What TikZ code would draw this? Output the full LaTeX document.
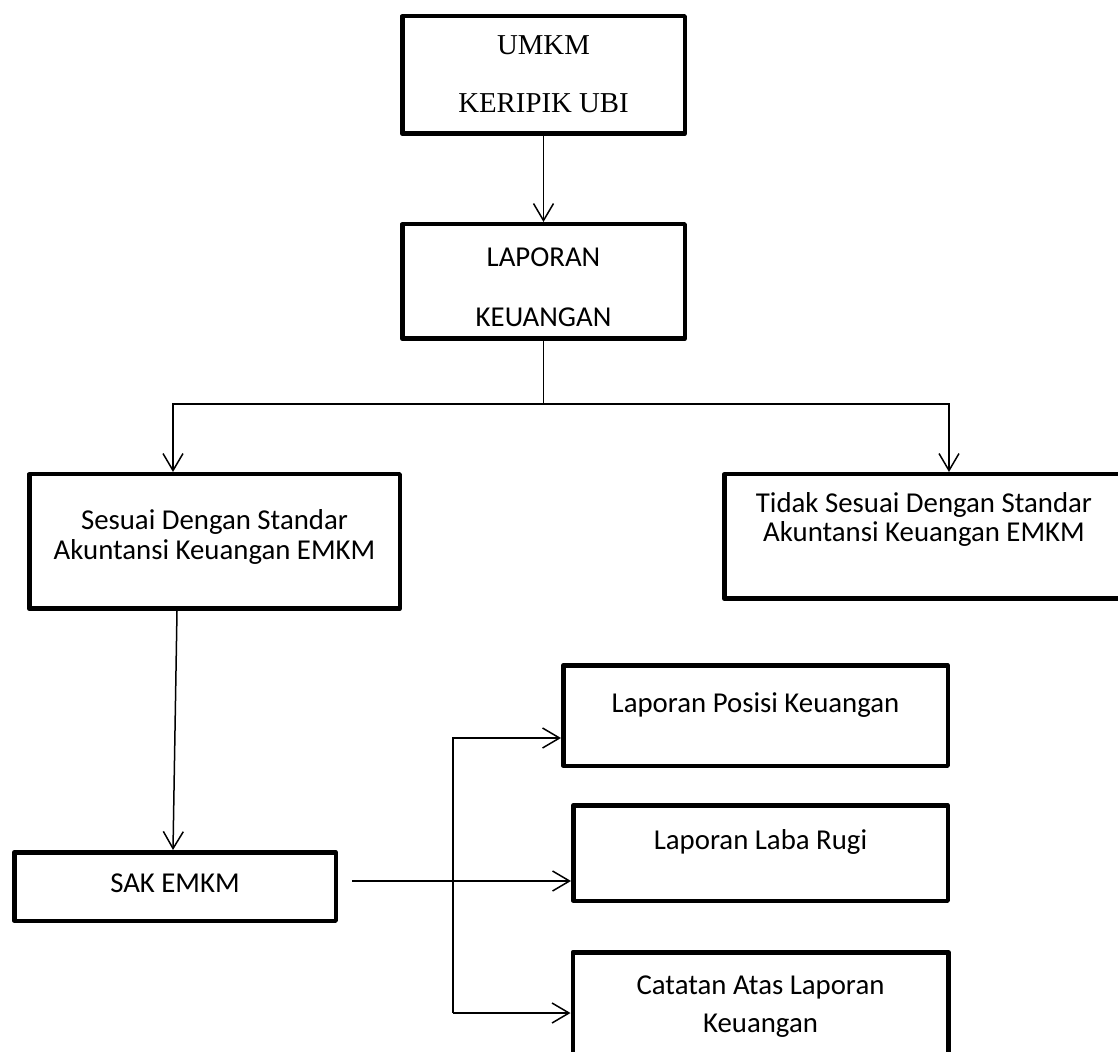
\documentclass[tikz,border=0pt]{standalone}
\usepackage{fontspec}
\setmainfont{Carlito}
\newfontfamily\timesfont{Liberation Serif}
\usetikzlibrary{positioning, arrows.meta}

\begin{document}
\begin{tikzpicture}[
    x=0.5pt, y=-0.5pt,
    box/.style={rectangle, draw, line width=2.25pt, line join=round, align=center, inner ysep=1pt, text height=10pt, font=\fontsize{14.4}{15}\selectfont},
    arrow/.style={-{Straight Barb[length=8.5pt, width=10pt]}, line width=0.75pt},
    line/.style={line width=0.75pt},
]
\path[use as bounding box, clip] (0,0) rectangle (1118,1052);

% ============ atas ============
\node[box, font=\timesfont\fontsize{14.4}{15}\selectfont, minimum width=141.25pt, minimum height=58.75pt, text height=42pt, text depth=4pt] (umkm) at (543.5,75)
      {UMKM\\[14pt]KERIPIK UBI};

\node[box, below=43pt of umkm, minimum width=141.25pt, minimum height=57.25pt, text height=48.7pt, text depth=4pt] (lapk)
      {LAPORAN\\[15pt]KEUANGAN};

% ============ cabang ============
\node[box, minimum width=185.25pt, minimum height=67.25pt, text height=21.7pt, text depth=4pt] (sesuai) at (214.5,541.5)
      {Sesuai Dengan Standar\\Akuntansi Keuangan EMKM};

\node[box, minimum width=199.75pt, minimum height=62.25pt, text height=8.7pt, text depth=4pt] (tidak) at (924,536.5)
      {Tidak Sesuai Dengan Standar\\[-0.5pt]Akuntansi Keuangan EMKM};

\node[box, minimum width=160.75pt, minimum height=34.25pt, text depth=4.3pt] (sak) at (175,886.5)
      {SAK EMKM};

% ============ laporan ============
\node[box, minimum width=192.25pt, minimum height=50.25pt, text depth=13.3pt] (lpk) at (755.5,715.5)
      {Laporan Posisi Keuangan};

\node[box, below=17.5pt of lpk, xshift=2.5pt, minimum width=187.25pt, minimum height=47.75pt, text depth=13.8pt] (llr)
      {Laporan Laba Rugi};

\node[box, below=23.5pt of llr, minimum width=187.75pt, minimum height=62.75pt, text height=21.2pt, text depth=4pt] (cat)
      {Catatan Atas Laporan\\[4pt]Keuangan};

% ============ panah ============
\draw[arrow] (umkm) -- (lapk);

\coordinate (fork) at (lapk.south |- 0,404);
\draw[line] (lapk.south) -- (fork);
\draw[arrow] (fork) -| ([xshift=-20.75pt]sesuai.north);
\draw[arrow] (fork) -| ([xshift=12.5pt]tidak.north);

\draw[arrow] ([xshift=-18.75pt]sesuai.south) -- ([xshift=-1pt]sak.north);

\coordinate (sakout) at ([xshift=7pt, yshift=2.75pt]sak.east);
\draw[arrow] (sakout) -- (sakout -| llr.west);

\coordinate (bustop) at (453,738);
\coordinate (busbot) at (453,1013);
\draw[arrow] (busbot) -- (bustop) -- (bustop -| lpk.west);
\draw[arrow] (busbot) -- (busbot -| cat.west);

\end{tikzpicture}
\end{document}
